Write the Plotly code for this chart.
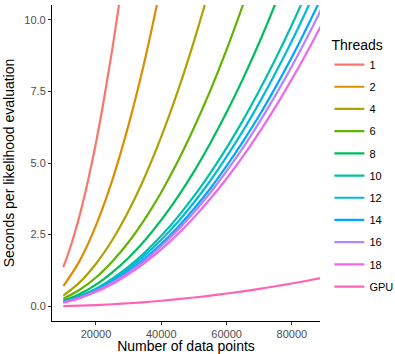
import plotly.graph_objects as go

n_points = [10000, 15000, 20000, 25000, 30000, 35000, 40000, 45000, 50000,
            55000, 60000, 65000, 70000, 75000, 80000, 85000, 90000]
n_points_t1 = [10000, 12500, 15000, 17500, 20000, 22500, 25000, 27500]

thread_labels = ["1", "2", "4", "6", "8", "10", "12", "14", "16", "18", "GPU"]

t1 = [1.36, 2.18, 3.17, 4.35, 5.71, 7.26, 8.98, 10.88]
t2 = [0.70, 1.58, 2.82, 4.40, 6.34, 8.62, 11.26]
t4 = [0.37, 0.83, 1.48, 2.31, 3.33, 4.53, 5.92, 7.49, 9.25, 11.19]
t6 = [0.26, 0.57, 1.00, 1.56, 2.24, 3.05, 3.98, 5.04, 6.23, 7.53, 8.96, 10.52, 12.20]
t8 = [0.19, 0.42, 0.75, 1.18, 1.69, 2.30, 3.01, 3.81, 4.70, 5.69, 6.77, 7.94, 9.21, 10.58, 12.03]
t10 = [0.15, 0.35, 0.61, 0.96, 1.38, 1.88, 2.46, 3.11, 3.84, 4.65, 5.53, 6.49, 7.53, 8.64, 9.83, 11.10]
t12 = [0.14, 0.33, 0.58, 0.91, 1.30, 1.78, 2.32, 2.93, 3.62, 4.38, 5.22, 6.12, 7.10, 8.15, 9.27, 10.47, 11.74]
t14 = [0.14, 0.31, 0.54, 0.85, 1.22, 1.67, 2.18, 2.75, 3.40, 4.11, 4.90, 5.75, 6.66, 7.65, 8.70, 9.83, 11.02]
t16 = [0.13, 0.29, 0.52, 0.82, 1.18, 1.60, 2.10, 2.65, 3.28, 3.96, 4.72, 5.53, 6.42, 7.37, 8.38, 9.46, 10.61]
t18 = [0.12, 0.28, 0.50, 0.77, 1.12, 1.52, 1.98, 2.51, 3.10, 3.75, 4.46, 5.23, 6.07, 6.97, 7.93, 8.95, 10.04]
gpu = [0.00, 0.016, 0.038, 0.066, 0.10, 0.141, 0.188, 0.242, 0.301, 0.367, 0.440,
       0.518, 0.603, 0.694, 0.791, 0.895, 1.005]

series = [t1, t2, t4, t6, t8, t10, t12, t14, t16, t18, gpu]
colors = ["#F8766D", "#DB8E00", "#AEA200", "#64B200", "#00BD5C", "#00C1A7",
          "#00BADE", "#00A6FF", "#B385FF", "#EF67EB", "#FF63B6"]

y_ticks = [0, 2.5, 5, 7.5, 10]
x_ticks = [20000, 40000, 60000, 80000]

fig = go.Figure()
for lab, vals, col in zip(thread_labels, series, colors):
    xs = n_points_t1 if lab == "1" else n_points[:len(vals)]
    fig.add_trace(go.Scatter(
        x=xs, y=vals, mode="lines", name=lab,
        line=dict(color=col, width=2.2, shape="spline", smoothing=1.0),
        legendgroup=lab,
    ))

axis_common = dict(
    showgrid=False, zeroline=False, showline=True, linecolor="black", linewidth=1.1,
    ticks="outside", ticklen=3, tickwidth=1.1, tickcolor="#333333",
    tickfont=dict(family="Liberation Sans, Arial, sans-serif", size=11, color="#4D4D4D"),
    automargin=False,
)

fig.update_layout(
    width=395, height=354,
    margin=dict(l=52, r=75, t=5, b=33, autoexpand=False),
    paper_bgcolor="white", plot_bgcolor="white",
    font=dict(family="Liberation Sans, Arial, sans-serif", color="black"),
    xaxis=dict(range=[6530, 88600], tickvals=x_ticks, ticktext=[str(v) for v in x_ticks],
               title=dict(text="Number of data points", font=dict(size=14), standoff=0),
               **axis_common),
    yaxis=dict(range=[-0.52, 10.52], tickvals=y_ticks, ticktext=["%.1f" % v for v in y_ticks],
               title=dict(text="Seconds per likelihood evaluation", font=dict(size=14), standoff=6),
               **axis_common),
    legend=dict(
        title=dict(text="Threads", font=dict(size=14)),
        font=dict(size=11),
        x=1.035, y=0.915, xanchor="left", yanchor="top",
        tracegroupgap=3.2, itemwidth=30, bgcolor="rgba(0,0,0,0)",
    ),
    showlegend=True,
)

fig.write_html("out.html", config={"displayModeBar": False},
               post_script="document.body.style.margin='0';document.body.style.padding='0';")
